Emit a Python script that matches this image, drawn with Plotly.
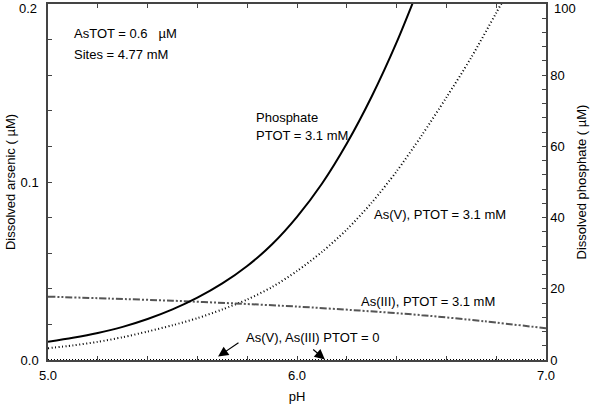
import plotly.graph_objects as go

# ---- data ----
ph_phosphate = [5.0, 5.1, 5.2, 5.3, 5.4, 5.5, 5.6, 5.7, 5.8, 5.9, 6.0, 6.1, 6.2, 6.3, 6.4, 6.5]
phosphate_um = [5.1, 6.25, 7.6, 9.3, 11.5, 14.2, 17.5, 21.5, 26.4, 32.5, 40.2, 49.5, 60.8,
                74.0, 89.2, 106.5]

ph_asv = [5.0, 5.1, 5.2, 5.3, 5.4, 5.5, 5.6, 5.7, 5.8, 5.9, 6.0, 6.1, 6.2, 6.3, 6.4, 6.5,
          6.6, 6.7, 6.8, 6.9]
asv_um = [0.0066, 0.0082, 0.0102, 0.0128, 0.0160, 0.0195, 0.0235, 0.0284, 0.0340, 0.0410,
          0.0500, 0.0607, 0.0733, 0.0884, 0.1060, 0.1260, 0.1475, 0.1700, 0.1950, 0.2200]

ph_asiii = [5.0, 5.25, 5.5, 5.75, 6.0, 6.25, 6.5, 6.75, 7.0]
asiii_um = [0.0356, 0.0345, 0.0333, 0.0318, 0.0300, 0.0278, 0.0252, 0.0218, 0.0178]

ph_zero = [5.0, 7.0]
as_zero = [0.0, 0.0]

x_ticks = [5.0, 6.0, 7.0]
x_labels = ["5.0", "6.0", "7.0"]
y_ticks = [0.0, 0.1, 0.2]
y_labels = ["0.0", "0.1", "0.2"]
y2_ticks = [0, 20, 40, 60, 80, 100]
y2_labels = ["0", "20", "40", "60", "80", "100"]

FONT = "Liberation Sans, Arial, Helvetica, sans-serif"
AX = "#444444"

fig = go.Figure()
fig.add_trace(go.Scatter(x=ph_phosphate, y=phosphate_um, yaxis="y2", mode="lines",
                         line=dict(color="black", width=2, shape="spline", smoothing=0.8),
                         name="Phosphate"))
fig.add_trace(go.Scatter(x=ph_asv, y=asv_um, mode="lines",
                         line=dict(color="black", width=2, dash="1px,2.5px", shape="spline", smoothing=0.8),
                         name="As(V)"))
fig.add_trace(go.Scatter(x=ph_asiii, y=asiii_um, mode="lines",
                         line=dict(color="#555555", width=2, dash="7px,2px,2px,2px,2px,2px",
                                   shape="spline", smoothing=0.8),
                         name="As(III)"))
fig.add_trace(go.Scatter(x=ph_zero, y=as_zero, mode="lines",
                         line=dict(color="black", width=2, dash="1px,2px"),
                         name="PTOT = 0"))

tickfont = dict(family=FONT, size=13, color="black")
common = dict(showline=True, linecolor=AX, linewidth=1.5, ticks="inside", ticklen=4,
              tickcolor=AX, showgrid=False, zeroline=False, tickfont=tickfont, automargin=False)

# top-most labels are drawn as annotations so they are not clipped at the page edge
y_text = [lab if v != y_ticks[-1] else "" for v, lab in zip(y_ticks, y_labels)]
y2_text = [lab if v != y2_ticks[-1] else "" for v, lab in zip(y2_ticks, y2_labels)]

fig.update_layout(
    width=600, height=414,
    margin=dict(l=48, r=54, t=4, b=54),
    paper_bgcolor="white", plot_bgcolor="white",
    showlegend=False,
    font=dict(family=FONT, size=13, color="black"),
    xaxis=dict(range=[5.0, 7.0], tickvals=x_ticks, ticktext=x_labels,
               mirror="allticks", ticklabelstandoff=3,
               minor=dict(dtick=0.2, ticks="inside", ticklen=4, tickcolor=AX),
               title=dict(text="pH", font=dict(family=FONT, size=13), standoff=10),
               **common),
    yaxis=dict(range=[0, 0.2], tickvals=y_ticks, ticktext=y_text, ticklabelstandoff=5,
               minor=dict(dtick=0.02, ticks="inside", ticklen=4, tickcolor=AX),
               title=dict(text="Dissolved arsenic ( \u00b5M)", font=dict(family=FONT, size=13), standoff=2),
               **common),
    yaxis2=dict(range=[0, 100], overlaying="y", side="right", tickvals=y2_ticks, ticktext=y2_text,
                minor=dict(dtick=4, ticks="inside", ticklen=4, tickcolor=AX),
                title=dict(text="Dissolved phosphate ( \u00b5M)", font=dict(family=FONT, size=13), standoff=13),
                **common),
)

fig.add_annotation(x=0, y=1, xref="paper", yref="paper", text=y_labels[-1], showarrow=False,
                   xanchor="right", yanchor="middle", xshift=-9, yshift=-4,
                   font=dict(family=FONT, size=13))
fig.add_annotation(x=1, y=1, xref="paper", yref="paper", text=y2_labels[-1], showarrow=False,
                   xanchor="left", yanchor="middle", xshift=6, yshift=-4,
                   font=dict(family=FONT, size=13))

texts = [
    ("AsTOT = 0.6\u00a0\u00a0 \u00b5M", 5.096, 0.1837),
    ("Sites = 4.77 mM", 5.096, 0.1719),
    ("Phosphate", 5.827, 0.1365),
    ("PTOT = 3.1 mM", 5.827, 0.1264),
    ("As(V), PTOT = 3.1 mM", 6.301, 0.0815),
    ("As(III), PTOT = 3.1 mM", 6.249, 0.0326),
    ("As(V), As(III) PTOT = 0", 5.787, 0.0129),
]
for t, x, y in texts:
    fig.add_annotation(x=x, y=y, xref="x", yref="y", text=t, showarrow=False,
                       xanchor="left", yanchor="middle", font=dict(family=FONT, size=13))

arrows = [((5.771, 0.0103), (5.683, 0.0019)), ((6.059, 0.0066), (6.112, 0.0003))]
for (tx, ty), (hx, hy) in arrows:
    fig.add_annotation(x=hx, y=hy, ax=tx, ay=ty, xref="x", yref="y", axref="x", ayref="y",
                       text="", showarrow=True, arrowhead=2, arrowsize=1.7, arrowwidth=1.2,
                       arrowcolor="black")

fig.write_html("out.html", config={"displayModeBar": False},
               post_script="document.body.style.margin='0';document.body.style.overflow='hidden';")
